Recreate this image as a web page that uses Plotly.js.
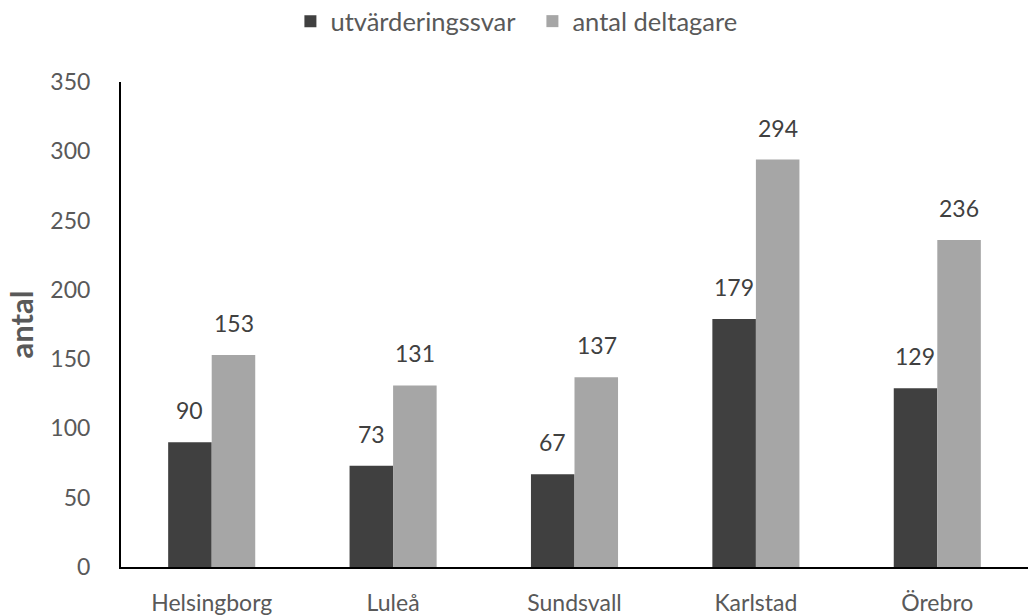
<!DOCTYPE html>
<html>
<head>
<meta charset="utf-8">
<script src="https://cdn.plot.ly/plotly-3.0.1.min.js"></script>
<style>html,body{margin:0;padding:0;background:#fff;}#chart{width:1028px;height:616px;}</style>
</head>
<body>
<div id="chart"></div>
<script>
const categories = ["Helsingborg", "Luleå", "Sundsvall", "Karlstad", "Örebro"];
const seriesNames = ["utvärderingssvar", "antal deltagare"];
const responses = [90, 73, 67, 179, 129];
const participants = [153, 131, 137, 294, 236];
const yTicks = [0, 50, 100, 150, 200, 250, 300, 350];

const FONT = "Lato, 'Open Sans', sans-serif";
const traces = [
  {type: "bar", name: seriesNames[0], x: categories, y: responses, marker: {color: "#404040"}},
  {type: "bar", name: seriesNames[1], x: categories, y: participants, marker: {color: "#A6A6A6"}}
];

const annotations = [];
[responses, participants].forEach((arr, si) => {
  arr.forEach((v, i) => {
    annotations.push({
      x: categories[i], y: v, xref: "x", yref: "y",
      text: String(v), showarrow: false,
      xanchor: "center", yanchor: "bottom",
      xshift: si === 0 ? -22 : 22, yshift: 16,
      font: {family: FONT, size: 23, color: "#404040"}
    });
  });
});

const layout = {
  width: 1028, height: 616,
  margin: {l: 121, r: 0, t: 82, b: 49, autoexpand: false},
  paper_bgcolor: "#fff", plot_bgcolor: "#fff",
  barmode: "group", bargap: 0.52, bargroupgap: 0,
  font: {family: FONT, color: "#595959", size: 23},
  showlegend: true,
  legend: {orientation: "h", x: 0.2825, xanchor: "left", xref: "container", yref: "container", y: 0.965, yanchor: "middle",
    font: {family: FONT, size: 25.5, color: "#595959"}, itemwidth: 30, entrywidth: 197, entrywidthmode: "pixels", traceorder: "normal"},
  xaxis: {type: "category", showline: true, linecolor: "#000", linewidth: 2, ticks: "",
    showgrid: false, zeroline: false, tickfont: {family: FONT, size: 23, color: "#595959"}, ticklabelstandoff: 14},
  yaxis: {range: [0, 350], tickvals: yTicks, showline: true, linecolor: "#000", linewidth: 2,
    ticks: "", showgrid: false, zeroline: false, ticklabelstandoff: 24,
    tickfont: {family: FONT, size: 23, color: "#595959"},
    title: {text: "<b>antal</b>", font: {family: FONT, size: 31, color: "#595959"}, standoff: 8}},
  annotations: annotations
};

Plotly.newPlot("chart", traces, layout, {displayModeBar: false, staticPlot: true});
</script>
</body>
</html>
